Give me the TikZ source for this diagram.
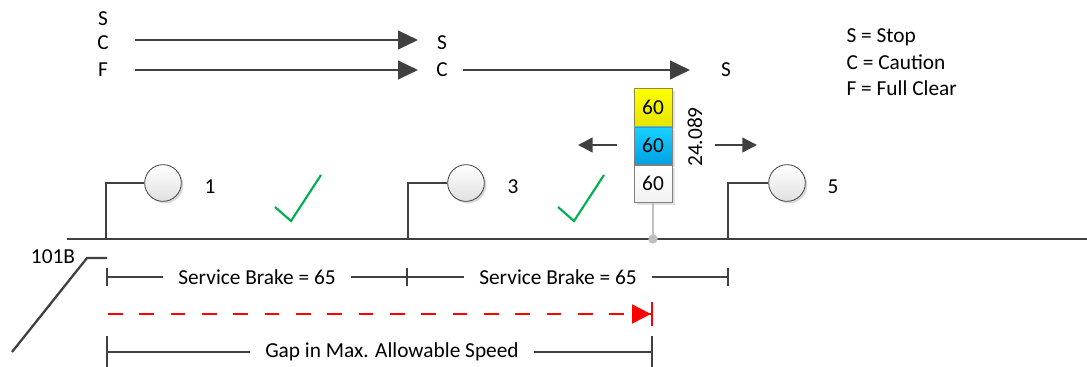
\documentclass[tikz,border=0pt]{standalone}
\usepackage{fontspec}
\setmainfont{Carlito}
\usetikzlibrary{arrows.meta, positioning, shadows, shadings}
\definecolor{dark}{HTML}{404040}
\definecolor{okgreen}{HTML}{00B050}
\tikzset{
	lbl/.style={font=\fontsize{16}{19}\selectfont, inner sep=1pt},
	flow/.style={draw=dark, line width=1.7pt, -{Triangle[length=15pt,width=14pt]}},
	dir/.style={draw=dark, line width=1.7pt, -{Triangle[length=11pt,width=11pt]}},
	rail/.style={draw=dark, line width=1.7pt},
	post/.style={draw=dark, line width=1.7pt},
	lamp/.style={circle, draw=dark, line width=0.6pt, minimum size=27.5pt, inner sep=0pt,
		top color=white, bottom color=black!12,
		drop shadow={shadow xshift=1.5pt, shadow yshift=-1.5pt, fill=black!30, opacity=0.5}},
	speed/.style={lbl, draw=black!50, line width=0.6pt, minimum width=28.5pt, minimum height=28pt,
		drop shadow={shadow xshift=2pt, shadow yshift=-2pt, fill=black!30, opacity=0.4}},
	dim/.style={draw=dark, line width=1.5pt},
	tick/.style={dim, {Bar[width=13pt,line width=1.5pt]}-},
	tock/.style={dim, -{Bar[width=13pt,line width=1.5pt]}},
	check/.style={draw=okgreen, line width=1.6pt}
}
\begin{document}
\begin{tikzpicture}[x=0.75pt, y=-0.75pt]
	\useasboundingbox (0,0) rectangle (1087,367);

	% Aspect sequence
	\node[lbl] (s0) at (103,19) {S};
	\node[lbl] (c0) at (103,43) {C};
	\node[lbl] (f0) at (103,70) {F};
	\node[lbl] (s1) at (442,43) {S};
	\node[lbl] (c1) at (442,70) {C};
	\node[lbl] (s2) at (726,70) {S};
	\coordinate (a1) at (135,40);  \coordinate (a1e) at (418,40);
	\coordinate (a2) at (135,70);  \coordinate (a2e) at (418,70);
	\coordinate (a3) at (463,70);  \coordinate (a3e) at (690,70);
	\draw[flow] (a1) -- (a1e);
	\draw[flow] (a2) -- (a2e);
	\draw[flow] (a3) -- (a3e);

	% Legend
	\node[lbl, anchor=west] (leg1) at (845,37) {S = Stop};
	\node[lbl, anchor=west] (leg2) at (845,62) {C = Caution};
	\node[lbl, anchor=west] (leg3) at (845,88) {F = Full Clear};

	% Track
	\coordinate (t0) at (67,239);
	\coordinate (t1) at (1087,239);
	\draw[rail] (t0) -- (t1);

	% Signals
	\node[lamp] (sig1) at (163,183) {};
	\node[lamp] (sig3) at (466,183) {};
	\node[lamp] (sig5) at (787,183) {};
	\coordinate (p1) at (106,239);
	\coordinate (p3) at (408,239);
	\coordinate (p5) at (728,239);
	\draw[post] (p1) |- (sig1.west);
	\draw[post] (p3) |- (sig3.west);
	\draw[post] (p5) |- (sig5.west);
	\node[lbl] (n1) at (210,187) {1};
	\node[lbl] (n3) at (513,187) {3};
	\node[lbl] (n5) at (833,187) {5};

	% Checks
	\draw[check] (275,207) -- (291,221) -- (321,175);
	\draw[check] (558,207) -- (574,221) -- (604,175);

	% Speed board
	\node[speed, draw=yellow!50!black, top color=yellow, bottom color=yellow!90!black] (sp1) at (653,107.5) {60};
	\node[speed, below=0pt of sp1, top color=cyan!80!blue!90, bottom color=cyan!70!blue!90!black] (sp2) {60};
	\node[speed, below=0pt of sp2, top color=white, bottom color=black!5] (sp3) {60};
	\coordinate (stem) at (653,239);
	\draw[black!25, line width=0.8pt] (sp3.south) -- (stem);
	\fill[black!25] (stem) circle (3.5pt);
	\node[lbl, rotate=90] (pos) at (695,137) {24.089};
	\coordinate (l0) at (617,145); \coordinate (l1) at (578,145);
	\coordinate (r0) at (715,145); \coordinate (r1) at (757,145);
	\draw[dir] (l0) -- (l1);
	\draw[dir] (r0) -- (r1);

	% Turnout
	\node[lbl] (tr) at (53,257) {101B};
	\coordinate (d0) at (12,352);
	\coordinate (d1) at (87,258);
	\coordinate (d2) at (107,258);
	\draw[rail] (d0) -- (d1) -- (d2);

	% Service brake distances
	\coordinate (b0) at (106,277);
	\coordinate (b1) at (408,277);
	\coordinate (b2) at (729,277);
	\node[lbl, inner xsep=11pt] (sb1) at (257,277) {Service Brake = 65};
	\node[lbl, inner xsep=11pt] (sb2) at (558,277) {Service Brake = 65};
	\draw[tick] (b0) -- (sb1.west);
	\draw[tock] (sb1.east) -- (b1);
	\draw[dim] (b1) -- (sb2.west);
	\draw[tock] (sb2.east) -- (b2);

	% Red gap arrow
	\coordinate (g0) at (108,314);
	\coordinate (g1) at (653,314);
	\draw[red, line width=1.6pt, dash pattern=on 11pt off 12.5pt,
		-{Triangle[length=14pt,width=14pt]Bar[width=18pt,line width=1.6pt]}] (g0) -- (g1);

	% Gap in speed
	\coordinate (m0) at (106,352);
	\coordinate (m1) at (653,352);
	\node[lbl, inner xsep=11pt] (gap) at (392,352) {Gap in Max. Allowable Speed};
	\draw[dim, {Bar[width=24pt,line width=1.5pt]}-] (m0) -- (gap.west);
	\draw[dim, -{Bar[width=24pt,line width=1.5pt]}] (gap.east) -- (m1);
\end{tikzpicture}
\end{document}
